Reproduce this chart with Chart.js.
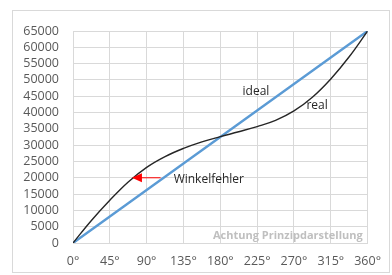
<!DOCTYPE html>
<html lang="de">
<head>
<meta charset="UTF-8" />
<title>Winkelfehler</title>
<script src="https://cdn.jsdelivr.net/npm/chart.js"></script>
<style>
* { box-sizing: border-box; }
body { margin: 0; background: #fff; width: 392px; height: 275px; overflow: hidden; position: relative; }
.frame { position: absolute; left: 12px; top: 10px; width: 378px; height: 263px; border: 1px solid #d9d9d9; }
#chart { position: absolute; left: 0; top: 0; }
</style>
</head>
<body>
<div class="frame"></div>
<canvas id="chart" width="392" height="275"></canvas>
<script>
// angle in degrees
const angles = [0, 22.5, 45, 67.5, 90, 112.5, 135, 157.5, 180, 202.5, 225, 247.5, 270, 292.5, 315, 337.5, 360];
const idealValues = [0, 4062.5, 8125, 12187.5, 16250, 20312.5, 24375, 28437.5, 32500, 36562.5, 40625, 44687.5, 48750, 52812.5, 56875, 60937.5, 65000];
const realValues = [0, 6900, 13100, 18700, 23200, 26500, 29000, 31000, 32600, 34100, 35700, 37600, 40500, 44700, 50300, 57100, 65000];
const xTicks = [0, 45, 90, 135, 180, 225, 270, 315, 360];

const font = "'Open Sans', sans-serif";

const notes = {
    id: 'notes',
    afterDatasetsDraw(chart) {
        const c = chart.ctx, x = chart.scales.x, y = chart.scales.y;
        c.save();
        c.font = '12px ' + font;
        c.fillStyle = '#262626';
        c.textBaseline = 'middle';
        c.textAlign = 'center';
        c.fillText('ideal', x.getPixelForValue(223.6), y.getPixelForValue(46300));
        c.fillText('real', x.getPixelForValue(298.3), y.getPixelForValue(42200));
        c.textAlign = 'left';
        c.fillText('Winkelfehler', x.getPixelForValue(123), y.getPixelForValue(19500));

        // arrow
        const yA = y.getPixelForValue(20000);
        const tip = x.getPixelForValue(72);
        const start = x.getPixelForValue(107);
        c.strokeStyle = '#ff0000';
        c.fillStyle = '#ff0000';
        c.lineWidth = 1;
        c.beginPath();
        c.moveTo(start, yA);
        c.lineTo(tip + 8, yA);
        c.stroke();
        c.beginPath();
        c.moveTo(tip, yA);
        c.lineTo(tip + 10, yA - 4.5);
        c.lineTo(tip + 10, yA + 4.5);
        c.closePath();
        c.fill();

        c.font = 'bold 11px ' + font;
        c.fillStyle = '#bfbfbf';
        c.textAlign = 'right';
        c.fillText('Achtung Prinzipdarstellung', x.getPixelForValue(354), y.getPixelForValue(2300));
        c.restore();
    }
};

new Chart(document.getElementById('chart'), {
    type: 'line',
    data: {
        datasets: [
            {
                label: 'real',
                data: angles.map((a, i) => ({ x: a, y: realValues[i] })),
                borderColor: '#262626',
                borderWidth: 1.4,
                pointRadius: 0,
                tension: 0.4,
                fill: false
            },
            {
                label: 'ideal',
                data: angles.map((a, i) => ({ x: a, y: idealValues[i] })),
                borderColor: '#5b9bd5',
                borderWidth: 2.4,
                pointRadius: 0,
                fill: false
            }
        ]
    },
    options: {
        responsive: false,
        animation: false,
        layout: { padding: { top: 31, right: 22, left: 0, bottom: 0 } },
        plugins: { legend: { display: false }, tooltip: { enabled: false } },
        scales: {
            x: {
                type: 'linear',
                min: 0, max: 360,
                afterBuildTicks: s => { s.ticks = xTicks.map(v => ({ value: v })); },
                afterFit: s => { s.height = 32; },
                grid: { color: '#d9d9d9', drawTicks: false },
                border: { color: '#d9d9d9' },
                ticks: { autoSkip: false, padding: 11, color: '#595959', font: { family: font, size: 12.5 }, callback: v => v + '°', maxRotation: 0 }
            },
            y: {
                min: 0, max: 65000,
                afterFit: s => { s.width = 73; },
                grid: { color: '#d9d9d9', drawTicks: false },
                border: { color: '#d9d9d9' },
                ticks: { autoSkip: false, stepSize: 5000, padding: 14, color: '#595959', font: { family: font, size: 12.5 }, callback: v => String(v) }
            }
        }
    },
    plugins: [notes]
});
</script>
</body>
</html>
